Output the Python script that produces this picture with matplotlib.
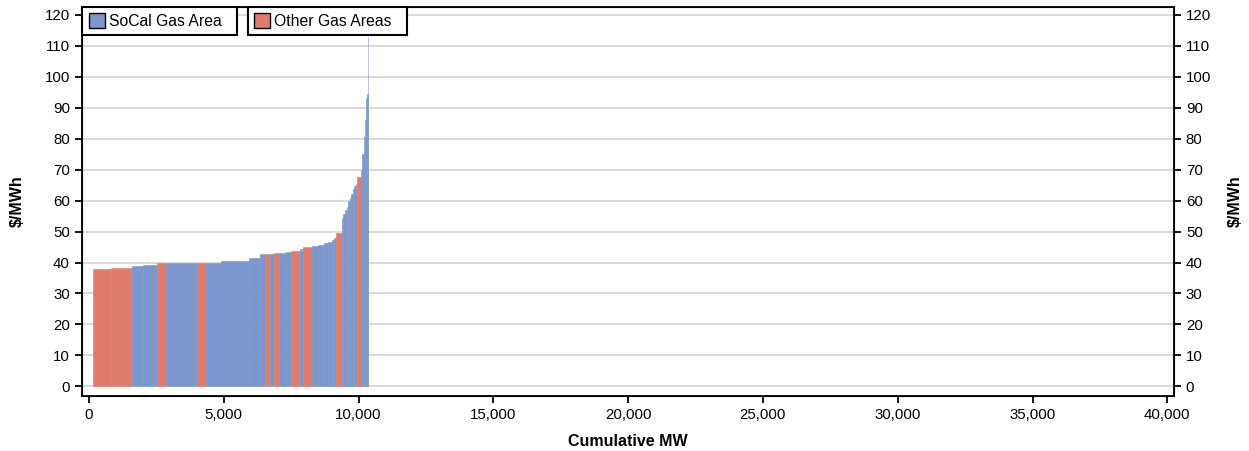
import numpy as np
import matplotlib
matplotlib.use("Agg")
import matplotlib.pyplot as plt
from matplotlib.patches import Patch
from matplotlib.ticker import FuncFormatter, MultipleLocator

plt.rcParams['font.family'] = ['Liberation Sans', 'DejaVu Sans']

# supply stack: where each block ends (cumulative MW), its price and its area
start_mw = 140
end_mw = [800, 1584, 2000, 2512, 2857, 3996, 4342, 4900, 5950, 6345,
          6531, 6716, 6864, 7062, 7300, 7484, 7829, 7953, 8262, 8500,
          8700, 8850, 9000, 9100, 9165, 9376, 9440, 9500, 9561, 9622,
          9680, 9730, 9784, 9833, 9900, 9956, 10082, 10140, 10190, 10230,
          10260, 10290, 10320, 10345, 10364]
price = [37.9, 38.3, 38.8, 39.1, 39.7, 39.8, 40.0, 40.0, 40.4, 41.5,
         42.9, 42.9, 42.9, 43.0, 43.1, 43.4, 43.8, 44.3, 44.9, 45.4,
         45.8, 46.2, 46.7, 47.3, 48.0, 49.5, 54.5, 55.8, 57.0, 58.0,
         59.7, 60.8, 62.0, 63.8, 64.8, 65.5, 67.5, 70.0, 75.0, 80.5,
         86.0, 90.0, 93.0, 94.5, 113.0]
area = ['O', 'O', 'S', 'S', 'O', 'S', 'O', 'S', 'S', 'S',
        'S', 'O', 'S', 'O', 'S', 'S', 'O', 'S', 'O', 'S',
        'S', 'S', 'S', 'S', 'S', 'O', 'S', 'S', 'S', 'O',
        'S', 'S', 'S', 'O', 'S', 'S', 'O', 'S', 'S', 'S',
        'S', 'S', 'S', 'S', 'S']

blue = '#7C97CB'
red = '#DE7D6D'

ends = np.array(end_mw, dtype=float)
lefts = np.concatenate([[start_mw], ends[:-1]])
widths = ends - lefts
colors = [blue if a == 'S' else red for a in area]

fig = plt.figure(figsize=(12.49, 4.51), dpi=100)
ax = fig.add_axes([0.0654, 0.1226, 0.8746, 0.862])

# thin edge so the 1px spike at the end of the stack still shows
ax.bar(lefts, price, width=widths, align='edge', color=colors,
       edgecolor=colors, linewidth=0.4, zorder=2)

ax.set_xlim(-270, 40250)
ax.set_ylim(-3, 122.5)
ax.yaxis.set_major_locator(MultipleLocator(10))
ax.xaxis.set_major_locator(MultipleLocator(5000))
ax.xaxis.set_major_formatter(FuncFormatter(lambda v, p: f'{int(v):,}'))
ax.grid(axis='y', color='#d4d4d4', linewidth=1.2, zorder=0)
ax.set_axisbelow(True)

for s in ax.spines.values():
    s.set_color('black')
    s.set_linewidth(1.3)
ax.tick_params(direction='out', length=5, width=1.3, labelsize=10.8, colors='black')
ax.set_xlabel('Cumulative MW', fontsize=11.5, fontweight='bold', labelpad=9)
ax.set_ylabel('$/MWh', fontsize=11.5, fontweight='bold', labelpad=14)

ax2 = ax.twinx()
ax2.set_ylim(-3, 122.5)
ax2.yaxis.set_major_locator(MultipleLocator(10))
ax2.tick_params(direction='out', length=5, width=1.3, labelsize=10.8, colors='black')
ax2.set_ylabel('$/MWh', fontsize=11.5, fontweight='bold', labelpad=12)

leg_kw = dict(loc='upper left', fontsize=11.3, fancybox=False, framealpha=1,
              edgecolor='black', borderaxespad=0, handlelength=1.05, handleheight=1.05,
              handletextpad=0.25, borderpad=0.4)
leg1 = ax2.legend(handles=[Patch(facecolor=blue, edgecolor='black', label='SoCal Gas Area  ')],
                  bbox_to_anchor=(0.0005, 1.0), **leg_kw)
leg1.get_frame().set_linewidth(1.5)
ax2.add_artist(leg1)
leg2 = ax2.legend(handles=[Patch(facecolor=red, edgecolor='black', label='Other Gas Areas  ')],
                  bbox_to_anchor=(0.152, 1.0), **leg_kw)
leg2.get_frame().set_linewidth(1.5)

fig.savefig('out.png', dpi=100)
